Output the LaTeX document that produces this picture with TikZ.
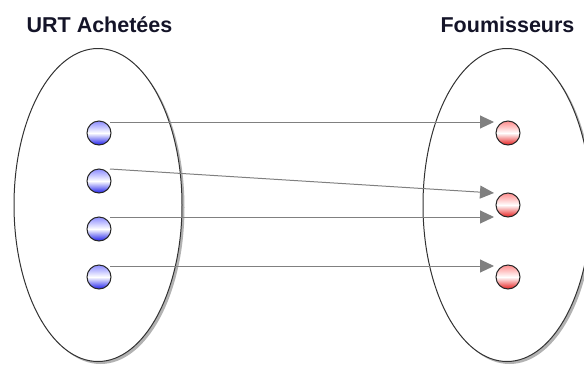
\documentclass[tikz,border=0pt]{standalone}
\usepackage{fontspec}
\setmainfont{Liberation Sans}
\usetikzlibrary{arrows.meta,shapes.geometric,shadows,calc}
\definecolor{titlecol}{RGB}{20,20,40}
\definecolor{rimcol}{RGB}{50,50,50}
\definecolor{arrowcol}{RGB}{128,128,128}
\definecolor{bluetop}{RGB}{140,140,255}
\definecolor{bluebot}{RGB}{30,30,235}
\definecolor{redtop}{RGB}{255,140,140}
\definecolor{redbot}{RGB}{230,30,30}
\tikzset{
  setshape/.style={ellipse, draw=rimcol, line width=1pt, fill=white,
    minimum width=168pt, minimum height=313pt, inner sep=0pt,
    drop shadow={shadow xshift=2.5pt, shadow yshift=-2.5pt, fill=black, opacity=0.3}},
  title/.style={font=\bfseries\fontsize{21.5}{24}\selectfont, text=titlecol, anchor=base, inner sep=0pt},
  bluedot/.style={circle, draw=black!85, line width=1pt, minimum size=24pt, inner sep=0pt,
    top color=bluetop, bottom color=bluebot, middle color=white},
  reddot/.style={circle, draw=black!85, line width=1pt, minimum size=24pt, inner sep=0pt,
    top color=redtop, bottom color=redbot, middle color=white},
  link/.style={draw=arrowcol, line width=1pt, -{Triangle[length=14pt,width=13pt]}, arrowcol}
}
\begin{document}
\begin{tikzpicture}[x=1pt,y=-1pt]
\useasboundingbox (0,0) rectangle (584,365);
\node[setshape] (setA) at (98,205) {};
\node[setshape] (setB) at (507,205) {};
\node[title] (tA) at (99.5,32) {URT Achetées};
\node[title] (tB) at (507.5,32) {Foumisseurs};
\node[bluedot] (b1) at (99,133) {};
\node[bluedot] (b2) at (99,181) {};
\node[bluedot] (b3) at (99,229) {};
\node[bluedot] (b4) at (99,277) {};
\node[reddot] (r1) at (508,133) {};
\node[reddot] (r2) at (508,205) {};
\node[reddot] (r3) at (508,277) {};
\draw[link] ($(b1.center)+(11,-11)$) -- ($(r1.center)+(-14,-11)$);
\draw[link] ($(b2.center)+(11,-12)$) -- ($(r2.center)+(-14,-12)$);
\draw[link] ($(b3.center)+(11,-12)$) -- ($(r2.center)+(-14,12)$);
\draw[link] ($(b4.center)+(11,-11)$) -- ($(r3.center)+(-14,-11)$);
\end{tikzpicture}
\end{document}
